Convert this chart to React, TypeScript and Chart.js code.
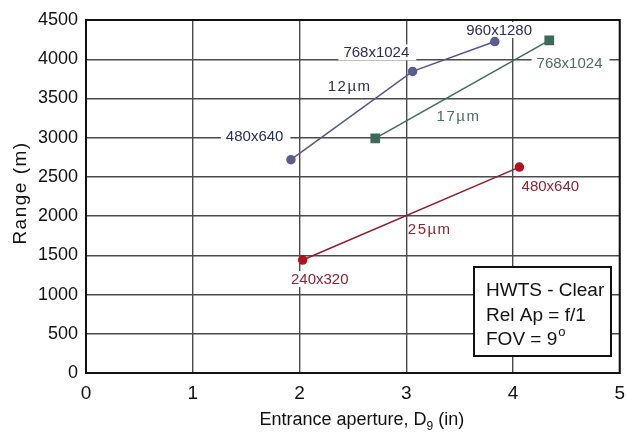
import React, { useEffect, useRef } from "react";
import { Chart, registerables } from "chart.js";

Chart.register(...registerables);

// ---- data ----
const xTickValues = [0, 1, 2, 3, 4, 5];
const yTickValues = [0, 500, 1000, 1500, 2000, 2500, 3000, 3500, 4000, 4500];

const seriesNames = ["12µm", "17µm", "25µm"];
const aperture12 = [1.92, 3.06, 3.83];
const range12 = [2720, 3845, 4225];
const aperture17 = [2.71, 4.34];
const range17 = [2990, 4240];
const aperture25 = [2.03, 4.06];
const range25 = [1440, 2625];

// annotation texts and their anchor positions in data units
const noteTexts = ["480x640", "768x1024", "960x1280", "12µm", "768x1024", "17µm", "480x640", "25µm", "240x320"];
const noteX = [1.58, 2.72, 3.87, 2.47, 4.53, 3.49, 4.35, 3.22, 2.19];
const noteY = [3020, 4088, 4373, 3660, 3952, 3276, 2384, 1836, 1198];
const noteSeries = [0, 0, 0, 0, 1, 1, 2, 2, 2];
const noteBoxed = [true, true, true, false, true, false, true, false, true];

const infoLines = ["HWTS - Clear", "Rel Ap = f/1", "FOV = 9"];
const xTitle = ["Entrance aperture, D", "9", " (in)"];
const yTitle = "Range (m)";

const lineColors = ["#55558a", "#3f6a5c", "#8e1d2c"];
const pointColors = ["#5c5c92", "#3b6b58", "#b3111f"];
const textColors = ["#2b2b5e", "#4b6c64", "#8a2232"];

const FONT = "'Liberation Sans', Arial, sans-serif";

const notesPlugin = {
  id: "notes",
  beforeDatasetsDraw(chart: any) {
    const { ctx, scales, chartArea } = chart;
    ctx.save();
    // plot frame
    ctx.strokeStyle = "#111";
    ctx.lineWidth = 2;
    ctx.strokeRect(chartArea.left, chartArea.top, chartArea.right - chartArea.left, chartArea.bottom - chartArea.top);

    ctx.font = `15px ${FONT}`;
    ctx.textAlign = "center";
    ctx.textBaseline = "middle";
    noteTexts.forEach((t, i) => {
      const px = scales.x.getPixelForValue(noteX[i]);
      const py = scales.y.getPixelForValue(noteY[i]);
      const isMu = t.indexOf("µ") >= 0;
      (ctx as any).letterSpacing = isMu ? "1.5px" : "0px";
      const w = ctx.measureText(t).width;
      if (noteBoxed[i]) {
        ctx.fillStyle = "#ffffff";
        ctx.fillRect(px - w / 2 - 5, py - 8, w + 12, 16);
      }
      ctx.fillStyle = textColors[noteSeries[i]];
      ctx.fillText(t, px, py + 1);
    });
    (ctx as any).letterSpacing = "0px";
    ctx.restore();
  },
  afterDraw(chart: any) {
    const { ctx, chartArea } = chart;
    ctx.save();
    // info box
    const bx = 474, by = 267, bw = 137, bh = 89;
    ctx.fillStyle = "#ffffff";
    ctx.fillRect(bx, by, bw, bh);
    ctx.strokeStyle = "#111";
    ctx.lineWidth = 2;
    ctx.strokeRect(bx, by, bw, bh);
    ctx.fillStyle = "#111";
    ctx.font = `19px ${FONT}`;
    ctx.textAlign = "left";
    ctx.textBaseline = "alphabetic";
    const baselines = [296, 321, 345];
    infoLines.forEach((l, i) => {
      ctx.fillText(l, bx + 12, baselines[i]);
    });
    const wFov = ctx.measureText(infoLines[2]).width;
    ctx.font = `13px ${FONT}`;
    ctx.fillText("o", bx + 12 + wFov + 1, baselines[2] - 9);

    // x title
    ctx.font = `18px ${FONT}`;
    const w1 = ctx.measureText(xTitle[0]).width;
    ctx.font = `12px ${FONT}`;
    const w2 = ctx.measureText(xTitle[1]).width;
    ctx.font = `18px ${FONT}`;
    const w3 = ctx.measureText(xTitle[2]).width;
    const total = w1 + w2 + w3;
    const cx = (chartArea.left + chartArea.right) / 2 + 9;
    let sx = cx - total / 2;
    const base = 425;
    ctx.fillText(xTitle[0], sx, base);
    ctx.font = `12px ${FONT}`;
    ctx.fillText(xTitle[1], sx + w1, base + 5);
    ctx.font = `18px ${FONT}`;
    ctx.fillText(xTitle[2], sx + w1 + w2, base);

    // y title
    ctx.translate(26, 193);
    ctx.rotate(-Math.PI / 2);
    ctx.font = `19px ${FONT}`;
    (ctx as any).letterSpacing = "1.5px";
    ctx.textAlign = "center";
    ctx.fillText(yTitle, 0, 0);
    (ctx as any).letterSpacing = "0px";
    ctx.restore();
  },
};

export default function App() {
  const ref = useRef<HTMLCanvasElement>(null);
  useEffect(() => {
    if (!ref.current) return;
    const mk = (xs: number[], ys: number[]) => xs.map((x, i) => ({ x, y: ys[i] }));
    const chart = new Chart(ref.current, {
      type: "scatter",
      data: {
        datasets: [
          {
            label: seriesNames[0],
            data: mk(aperture12, range12),
            showLine: true,
            borderColor: lineColors[0],
            borderWidth: 1.5,
            pointStyle: "circle",
            pointRadius: 4,
            pointBackgroundColor: pointColors[0],
            pointBorderColor: pointColors[0],
          },
          {
            label: seriesNames[1],
            data: mk(aperture17, range17),
            showLine: true,
            borderColor: lineColors[1],
            borderWidth: 1.5,
            pointStyle: "rect",
            pointRadius: 5.8,
            pointBackgroundColor: pointColors[1],
            pointBorderColor: pointColors[1],
          },
          {
            label: seriesNames[2],
            data: mk(aperture25, range25),
            showLine: true,
            borderColor: lineColors[2],
            borderWidth: 1.5,
            pointStyle: "circle",
            pointRadius: 4,
            pointBackgroundColor: pointColors[2],
            pointBorderColor: pointColors[2],
          },
        ],
      },
      options: {
        animation: false,
        responsive: false,
        devicePixelRatio: 1,
        layout: { padding: { top: 20, right: 4, left: 0, bottom: 0 } },
        plugins: { legend: { display: false }, tooltip: { enabled: false } },
        scales: {
          x: {
            type: "linear",
            min: xTickValues[0],
            max: xTickValues[xTickValues.length - 1],
            afterBuildTicks: (s: any) => {
              s.ticks = xTickValues.map((v) => ({ value: v }));
            },
            afterFit: (s: any) => {
              s.height = 64;
              s.paddingLeft = 0;
              s.paddingRight = 0;
            },
            ticks: {
              color: "#111",
              font: { size: 19, family: FONT },
              padding: 9,
              callback: (v: any) => String(v),
            },
            grid: { color: "#4a4a4a", lineWidth: 1.4, drawTicks: false },
            border: { display: true, color: "#111", width: 2 },
          },
          y: {
            type: "linear",
            min: yTickValues[0],
            max: yTickValues[yTickValues.length - 1],
            afterBuildTicks: (s: any) => {
              s.ticks = yTickValues.map((v) => ({ value: v }));
            },
            afterFit: (s: any) => {
              s.width = 86;
              s.paddingTop = 0;
              s.paddingBottom = 0;
            },
            ticks: {
              color: "#111",
              font: { size: 18, family: FONT },
              padding: 8,
              callback: (v: any) => String(v),
            },
            grid: { color: "#4a4a4a", lineWidth: 1.4, drawTicks: false },
            border: { display: true, color: "#111", width: 2 },
          },
        },
      },
      plugins: [notesPlugin],
    } as any);
    return () => chart.destroy();
  }, []);
  return (
    <div style={{ position: "fixed", left: 0, top: 0, width: 627, height: 437, background: "#fff" }}>
      <canvas ref={ref} width={627} height={437} style={{ display: "block" }} />
    </div>
  );
}
